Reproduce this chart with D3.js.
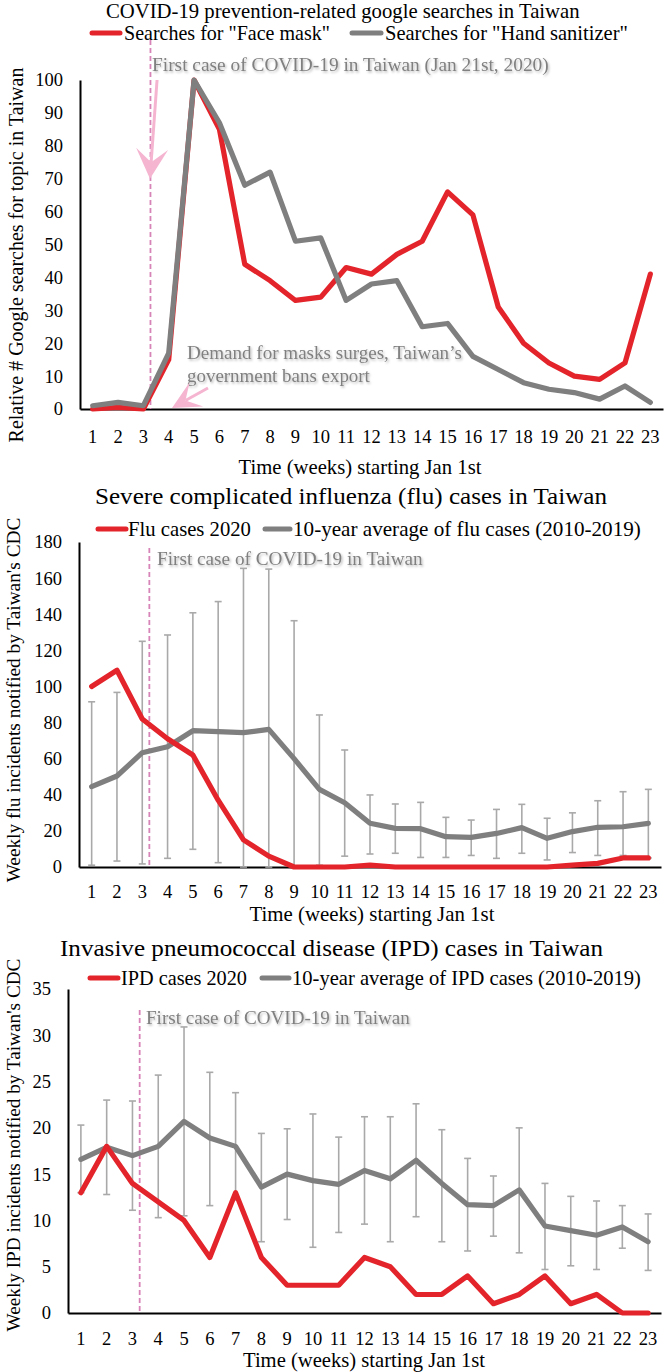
<!DOCTYPE html>
<html><head><meta charset="utf-8">
<script src="https://cdn.jsdelivr.net/npm/d3@7"></script>
<style>
body{margin:0;background:#fff}
svg text{font-family:"Liberation Serif","Times New Roman",serif}
</style>
</head><body>
<svg id="c" width="666" height="1372"></svg>
<script>
// ---------- data ----------
const weeks = ["1","2","3","4","5","6","7","8","9","10","11","12","13","14","15","16","17","18","19","20","21","22","23"];

const faceMask      = [0,0.5,0,15,100,85,44,39,33,34,43,41,47,51,66,59,31,20,14,10,9,14,41];
const handSanitizer = [1,2,1,17,100,87,68,72,51,52,33,38,39,25,26,16,12,8,6,5,3,7,2];

const flu2020 = [100,109,82,71,62,37,15,6,0,0,0,1,0,0,0,0,0,0,0,1,2,5,5];
const fluAvg  = [44.5,50.4,63.3,66.6,75.5,75,74.4,76.2,60,43,35.6,24.2,21.4,21.2,16.8,16.4,18.6,21.8,15.9,19.6,22,22.3,24.2];
const fluHigh = [91.5,96.7,125,128.5,140.8,147,165.4,165,136.4,84.2,64.8,39.9,34.9,35.8,27.5,26,31.9,34.7,27,30,36.7,41.7,43];
const fluLow  = [1,3.3,1.7,4.8,9.8,2.4,0,0,0,1,6,7.2,7.6,5.3,5.3,6.4,4.8,7.6,3.9,8,6.4,6.4,5];

const ipd2020 = [13,18,14,12,10,6,13,6,3,3,3,6,5,2,2,4,1,2,4,1,2,0,0];
const ipdAvg  = [16.6,17.9,17,18,20.7,18.9,18,13.6,15,14.3,13.9,15.4,14.5,16.5,14,11.7,11.6,13.3,9.4,8.9,8.4,9.3,7.7];
const ipdHigh = [20.3,23,22.9,25.7,30.9,26,23.8,19.4,19.9,21.5,19,21.2,21.2,22.6,19.8,16.7,14.8,20,14,12.6,12.1,11.6,10.7];
const ipdLow  = [13,12.8,11.1,10.3,10.5,11.6,12.2,7.7,10.1,7.1,8.7,9.6,7.7,10.4,7.7,6.7,8.3,6.5,4.7,5.1,4.7,7,4.6];

const ticks1 = [0,10,20,30,40,50,60,70,80,90,100];
const ticks2 = [0,20,40,60,80,100,120,140,160,180];
const ticks3 = [0,5,10,15,20,25,30,35];

const firstCaseWeek = 3.28;
const arrowFirstCase = [[3.54,100],[3.26,70]];
const arrowExport    = [[5.55,6.4],[4.13,0.3]];

// ---------- drawing ----------
const RED = "#e3242b", GRAY = "#7f7f7f", EBAR = "#a9a9a9", PINK = "#d784b8", LPINK = "#f5b5d1", ANN = "#808080";
const svg = d3.select("#c");
svg.append("rect").attr("width",666).attr("height",1372).attr("fill","#fff");
const defs = svg.append("defs");
defs.append("filter").attr("id","sh").attr("x","-5%").attr("y","-40%").attr("width","112%").attr("height","190%")
  .append("feDropShadow").attr("dx",1.2).attr("dy",1.6).attr("stdDeviation",1.3)
  .attr("flood-color","#000").attr("flood-opacity",0.28);

// text whose font size is fitted so its natural width equals the reference width
function txt(g, s, x, y, o = {}) {
  const base = o.size || 18;
  const t = g.append("text").attr("x", x).attr("y", y).attr("dy", "0.35em").text(s)
    .attr("font-size", base).attr("fill", o.fill || "#000")
    .attr("text-anchor", o.anchor || "start");
  if (o.len) {
    const w = t.node().getComputedTextLength();
    if (w > 0) {
      let fs = base * o.len / w;
      fs = Math.max(base * 0.8, Math.min(base * 1.25, fs));
      t.attr("font-size", fs);
      const w2 = t.node().getComputedTextLength();
      if (Math.abs(w2 - o.len) > 2) t.attr("textLength", o.len).attr("lengthAdjust", "spacingAndGlyphs");
    }
  }
  if (o.filter) t.attr("filter", "url(#sh)");
  return t;
}

function chart(cfg) {
  const g = svg.append("g");
  const x = d3.scaleBand().domain(weeks).range([cfg.left, cfg.right]);
  const xc = w => x(w) + x.bandwidth() / 2;
  const xf = d3.scaleLinear().domain([1, 23]).range([xc("1"), xc("23")]);
  const y = d3.scaleLinear().domain([0, cfg.ymax]).range([cfg.bottom, cfg.top]);

  // title & legend
  txt(g, cfg.title, cfg.titleX, cfg.titleY, {len: cfg.titleW, size: 19});
  cfg.legend.forEach(l => {
    g.append("line").attr("x1", l.x1).attr("x2", l.x2).attr("y1", cfg.legY).attr("y2", cfg.legY)
      .attr("stroke", l.color).attr("stroke-width", 5).attr("stroke-linecap", "round");
    txt(g, l.label, l.tx, cfg.legY, {len: l.tw, size: 18.5});
  });

  // axes
  const ya = g.append("g").attr("transform", `translate(${cfg.left},0)`)
    .call(d3.axisLeft(y).tickValues(cfg.yticks).tickSize(0).tickSizeOuter(0).tickPadding(17).tickFormat(d3.format("d")));
  ya.attr("font-family", null).attr("font-size", 18.5);
  ya.select(".domain").attr("stroke", "#000").attr("stroke-width", 2);
  ya.selectAll("text").attr("fill", "#000");

  const xa = g.append("g").attr("transform", `translate(0,${cfg.bottom})`)
    .call(d3.axisBottom(x).tickSize(0).tickSizeOuter(0).tickPadding(cfg.xpad));
  xa.attr("font-family", null).attr("font-size", 18.5);
  xa.select(".domain").attr("stroke", "#000").attr("stroke-width", 2);
  xa.selectAll("text").attr("fill", "#000");

  // axis titles
  txt(g, cfg.xTitle, cfg.xTitleX, cfg.xTitleY, {anchor: "middle", len: cfg.xTitleW, size: 18.5});
  txt(g.append("g").attr("transform", `translate(${cfg.yTitleX},${cfg.yTitleY}) rotate(-90)`),
      cfg.yTitle, 0, 0, {anchor: "middle", len: cfg.yTitleW, size: 18.5});

  // first case dashed line
  g.append("line").attr("x1", xf(firstCaseWeek)).attr("x2", xf(firstCaseWeek))
    .attr("y1", cfg.dashTop).attr("y2", cfg.bottom)
    .attr("stroke", PINK).attr("stroke-width", 1.8).attr("stroke-dasharray", "5,3");
  cfg.notes.forEach(n => txt(g, n.s, n.x, n.y, {fill: ANN, len: n.w, filter: true, size: n.size || 18}));

  // error bars
  if (cfg.high) {
    const eb = g.append("g").attr("stroke", EBAR).attr("stroke-width", 1.6);
    weeks.forEach((w, i) => {
      const cx = xc(w), yh = y(cfg.high[i]), yl = y(Math.max(0, cfg.low[i]));
      eb.append("line").attr("x1", cx).attr("x2", cx).attr("y1", yh).attr("y2", yl);
      eb.append("line").attr("x1", cx - 3.5).attr("x2", cx + 3.5).attr("y1", yh).attr("y2", yh);
      eb.append("line").attr("x1", cx - 3.5).attr("x2", cx + 3.5).attr("y1", yl).attr("y2", yl);
    });
  }

  const line = d3.line().x((d, i) => xc(weeks[i])).y(d => y(d));
  cfg.series.forEach(s => {
    g.append("path").datum(s.values).attr("d", line).attr("fill", "none")
      .attr("stroke", s.color).attr("stroke-width", 5.2)
      .attr("stroke-linejoin", "round").attr("stroke-linecap", "round");
  });

  (cfg.arrows || []).forEach(a => {
    const x1 = xf(a.p[0][0]), y1 = y(a.p[0][1]), x2 = xf(a.p[1][0]), y2 = y(a.p[1][1]);
    const dx = x2 - x1, dy = y2 - y1, L = Math.hypot(dx, dy), ux = dx / L, uy = dy / L, nx = -uy, ny = ux;
    const bx = x2 - ux * a.len, by = y2 - uy * a.len;
    const mx = x2 - ux * a.len * 0.55, my = y2 - uy * a.len * 0.55;
    g.append("line").attr("x1", x1).attr("y1", y1).attr("x2", mx).attr("y2", my)
      .attr("stroke", LPINK).attr("stroke-width", 3);
    g.append("path").attr("fill", LPINK)
      .attr("d", `M${x2},${y2}L${bx + nx * a.w},${by + ny * a.w}L${mx},${my}L${bx - nx * a.w},${by - ny * a.w}Z`);
  });
}

chart({
  left: 80, right: 663, top: 80, bottom: 409, ymax: 100, yticks: ticks1, xpad: 21,
  title: "COVID-19 prevention-related google searches in Taiwan", titleX: 106, titleY: 11, titleW: 474,
  legY: 33,
  legend: [
    {x1: 92, x2: 120, color: RED, label: "Searches for \"Face mask\"", tx: 124, tw: 206},
    {x1: 352, x2: 381, color: GRAY, label: "Searches for \"Hand sanitizer\"", tx: 385, tw: 243}
  ],
  xTitle: "Time (weeks) starting Jan 1st", xTitleX: 360, xTitleY: 467, xTitleW: 243,
  yTitle: "Relative # Google searches for topic in Taiwan", yTitleX: 16, yTitleY: 255, yTitleW: 375,
  dashTop: 40,
  notes: [
    {s: "First case of COVID-19 in Taiwan (Jan 21st, 2020)", x: 152, y: 64, w: 397},
    {s: "Demand for masks surges, Taiwan\u2019s", x: 187, y: 352, w: 275},
    {s: "government bans export", x: 187, y: 375, w: 183}
  ],
  series: [{values: faceMask, color: RED}, {values: handSanitizer, color: GRAY}],
  arrows: [{p: arrowFirstCase, len: 30, w: 16}, {p: arrowExport, len: 28, w: 14}]
});

chart({
  left: 79, right: 661, top: 542, bottom: 867, ymax: 180, yticks: ticks2, xpad: 18,
  title: "Severe complicated influenza (flu) cases in Taiwan", titleX: 95, titleY: 496, titleW: 512,
  legY: 529,
  legend: [
    {x1: 98, x2: 126, color: RED, label: "Flu cases 2020", tx: 128, tw: 123},
    {x1: 265, x2: 290, color: GRAY, label: "10-year average of flu cases (2010-2019)", tx: 293, tw: 348}
  ],
  xTitle: "Time (weeks) starting Jan 1st", xTitleX: 372, xTitleY: 914, xTitleW: 245,
  yTitle: "Weekly flu incidents notified by Taiwan's CDC", yTitleX: 13, yTitleY: 700, yTitleW: 365,
  dashTop: 548,
  notes: [{s: "First case of COVID-19 in Taiwan", x: 157, y: 558, w: 266}],
  high: fluHigh, low: fluLow,
  series: [{values: fluAvg, color: GRAY}, {values: flu2020, color: RED}]
});

chart({
  left: 68, right: 661, top: 989, bottom: 1313, ymax: 35, yticks: ticks3, xpad: 19,
  title: "Invasive pneumococcal disease (IPD) cases in Taiwan", titleX: 60, titleY: 948, titleW: 543,
  legY: 978,
  legend: [
    {x1: 90, x2: 118, color: RED, label: "IPD cases 2020", tx: 121, tw: 126},
    {x1: 262, x2: 289, color: GRAY, label: "10-year average of IPD cases (2010-2019)", tx: 292, tw: 349}
  ],
  xTitle: "Time (weeks) starting Jan 1st", xTitleX: 364, xTitleY: 1360, xTitleW: 242,
  yTitle: "Weekly IPD incidents notified by Taiwan's CDC", yTitleX: 13, yTitleY: 1145, yTitleW: 373,
  dashTop: 1010,
  notes: [{s: "First case of COVID-19 in Taiwan", x: 146, y: 1017, w: 264}],
  high: ipdHigh, low: ipdLow,
  series: [{values: ipdAvg, color: GRAY}, {values: ipd2020, color: RED}]
});
</script>
</body></html>
